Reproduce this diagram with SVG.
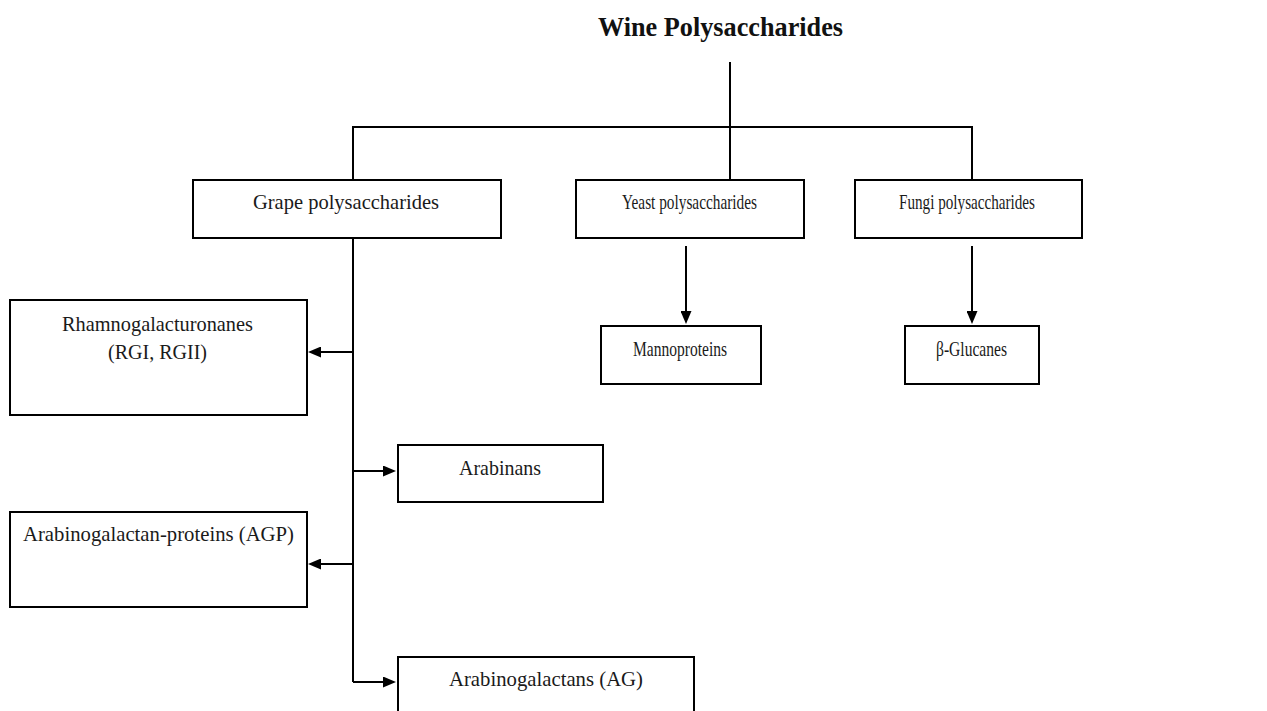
<svg xmlns="http://www.w3.org/2000/svg" width="1267" height="711" viewBox="0 0 1267 711">
<defs>
<marker id="arr" markerUnits="userSpaceOnUse" markerWidth="13" markerHeight="11" refX="7" refY="5.5" orient="auto">
<path d="M0,0 L13,5.5 L0,11 z" fill="#000"/>
</marker>
<style>
.box{fill:#fff;stroke:#000;stroke-width:2}
.t{font-family:"Liberation Serif","Times New Roman",serif;font-size:22px;fill:#1a1a1a;text-anchor:start}
.title{font-family:"Liberation Serif","Times New Roman",serif;font-size:28px;font-weight:bold;fill:#111;text-anchor:start}
.c{fill:none;stroke:#000;stroke-width:2}
</style>
</defs>
<rect width="1267" height="711" fill="#fff"/>
<g id="connectors">
<path class="c" d="M730,62 V179"/>
<path class="c" d="M353,179 V127 H972 V179"/>
<path class="c" d="M353,233 V682"/>
<path class="c" d="M353,352 H314" marker-end="url(#arr)"/>
<path class="c" d="M353,471 H390" marker-end="url(#arr)"/>
<path class="c" d="M353,564 H314" marker-end="url(#arr)"/>
<path class="c" d="M353,682 H390" marker-end="url(#arr)"/>
<path class="c" d="M686,246 V318" marker-end="url(#arr)"/>
<path class="c" d="M972,246 V318" marker-end="url(#arr)"/>
</g>
<g id="title"><text class="title" x="598" y="36" textLength="245" lengthAdjust="spacingAndGlyphs">Wine Polysaccharides</text></g>
<g id="grape"><rect class="box" x="193" y="180" width="308" height="58"/><text class="t" x="253" y="209" textLength="186" lengthAdjust="spacingAndGlyphs">Grape polysaccharides</text></g>
<g id="yeast"><rect class="box" x="576" y="180" width="228" height="58"/><text class="t" x="622" y="209" textLength="135" lengthAdjust="spacingAndGlyphs">Yeast polysaccharides</text></g>
<g id="fungi"><rect class="box" x="855" y="180" width="227" height="58"/><text class="t" x="899" y="209" textLength="136" lengthAdjust="spacingAndGlyphs">Fungi polysaccharides</text></g>
<g id="mannoproteins"><rect class="box" x="601" y="326" width="160" height="58"/><text class="t" x="633" y="356" textLength="94" lengthAdjust="spacingAndGlyphs">Mannoproteins</text></g>
<g id="glucanes"><rect class="box" x="905" y="326" width="134" height="58"/><text class="t" x="936" y="356" textLength="71" lengthAdjust="spacingAndGlyphs">β-Glucanes</text></g>
<g id="rhamno"><rect class="box" x="10" y="300" width="297" height="115"/><text class="t" x="62" y="331" textLength="191" lengthAdjust="spacingAndGlyphs">Rhamnogalacturonanes</text><text class="t" x="108" y="359" textLength="99" lengthAdjust="spacingAndGlyphs">(RGI, RGII)</text></g>
<g id="arabinans"><rect class="box" x="398" y="445" width="205" height="57"/><text class="t" x="459" y="475" textLength="82" lengthAdjust="spacingAndGlyphs">Arabinans</text></g>
<g id="agp"><rect class="box" x="10" y="512" width="297" height="95"/><text class="t" x="23" y="541" textLength="271" lengthAdjust="spacingAndGlyphs">Arabinogalactan-proteins (AGP)</text></g>
<g id="ag"><rect class="box" x="398" y="657" width="296" height="70"/><text class="t" x="449" y="686" textLength="194" lengthAdjust="spacingAndGlyphs">Arabinogalactans (AG)</text></g>
</svg>
